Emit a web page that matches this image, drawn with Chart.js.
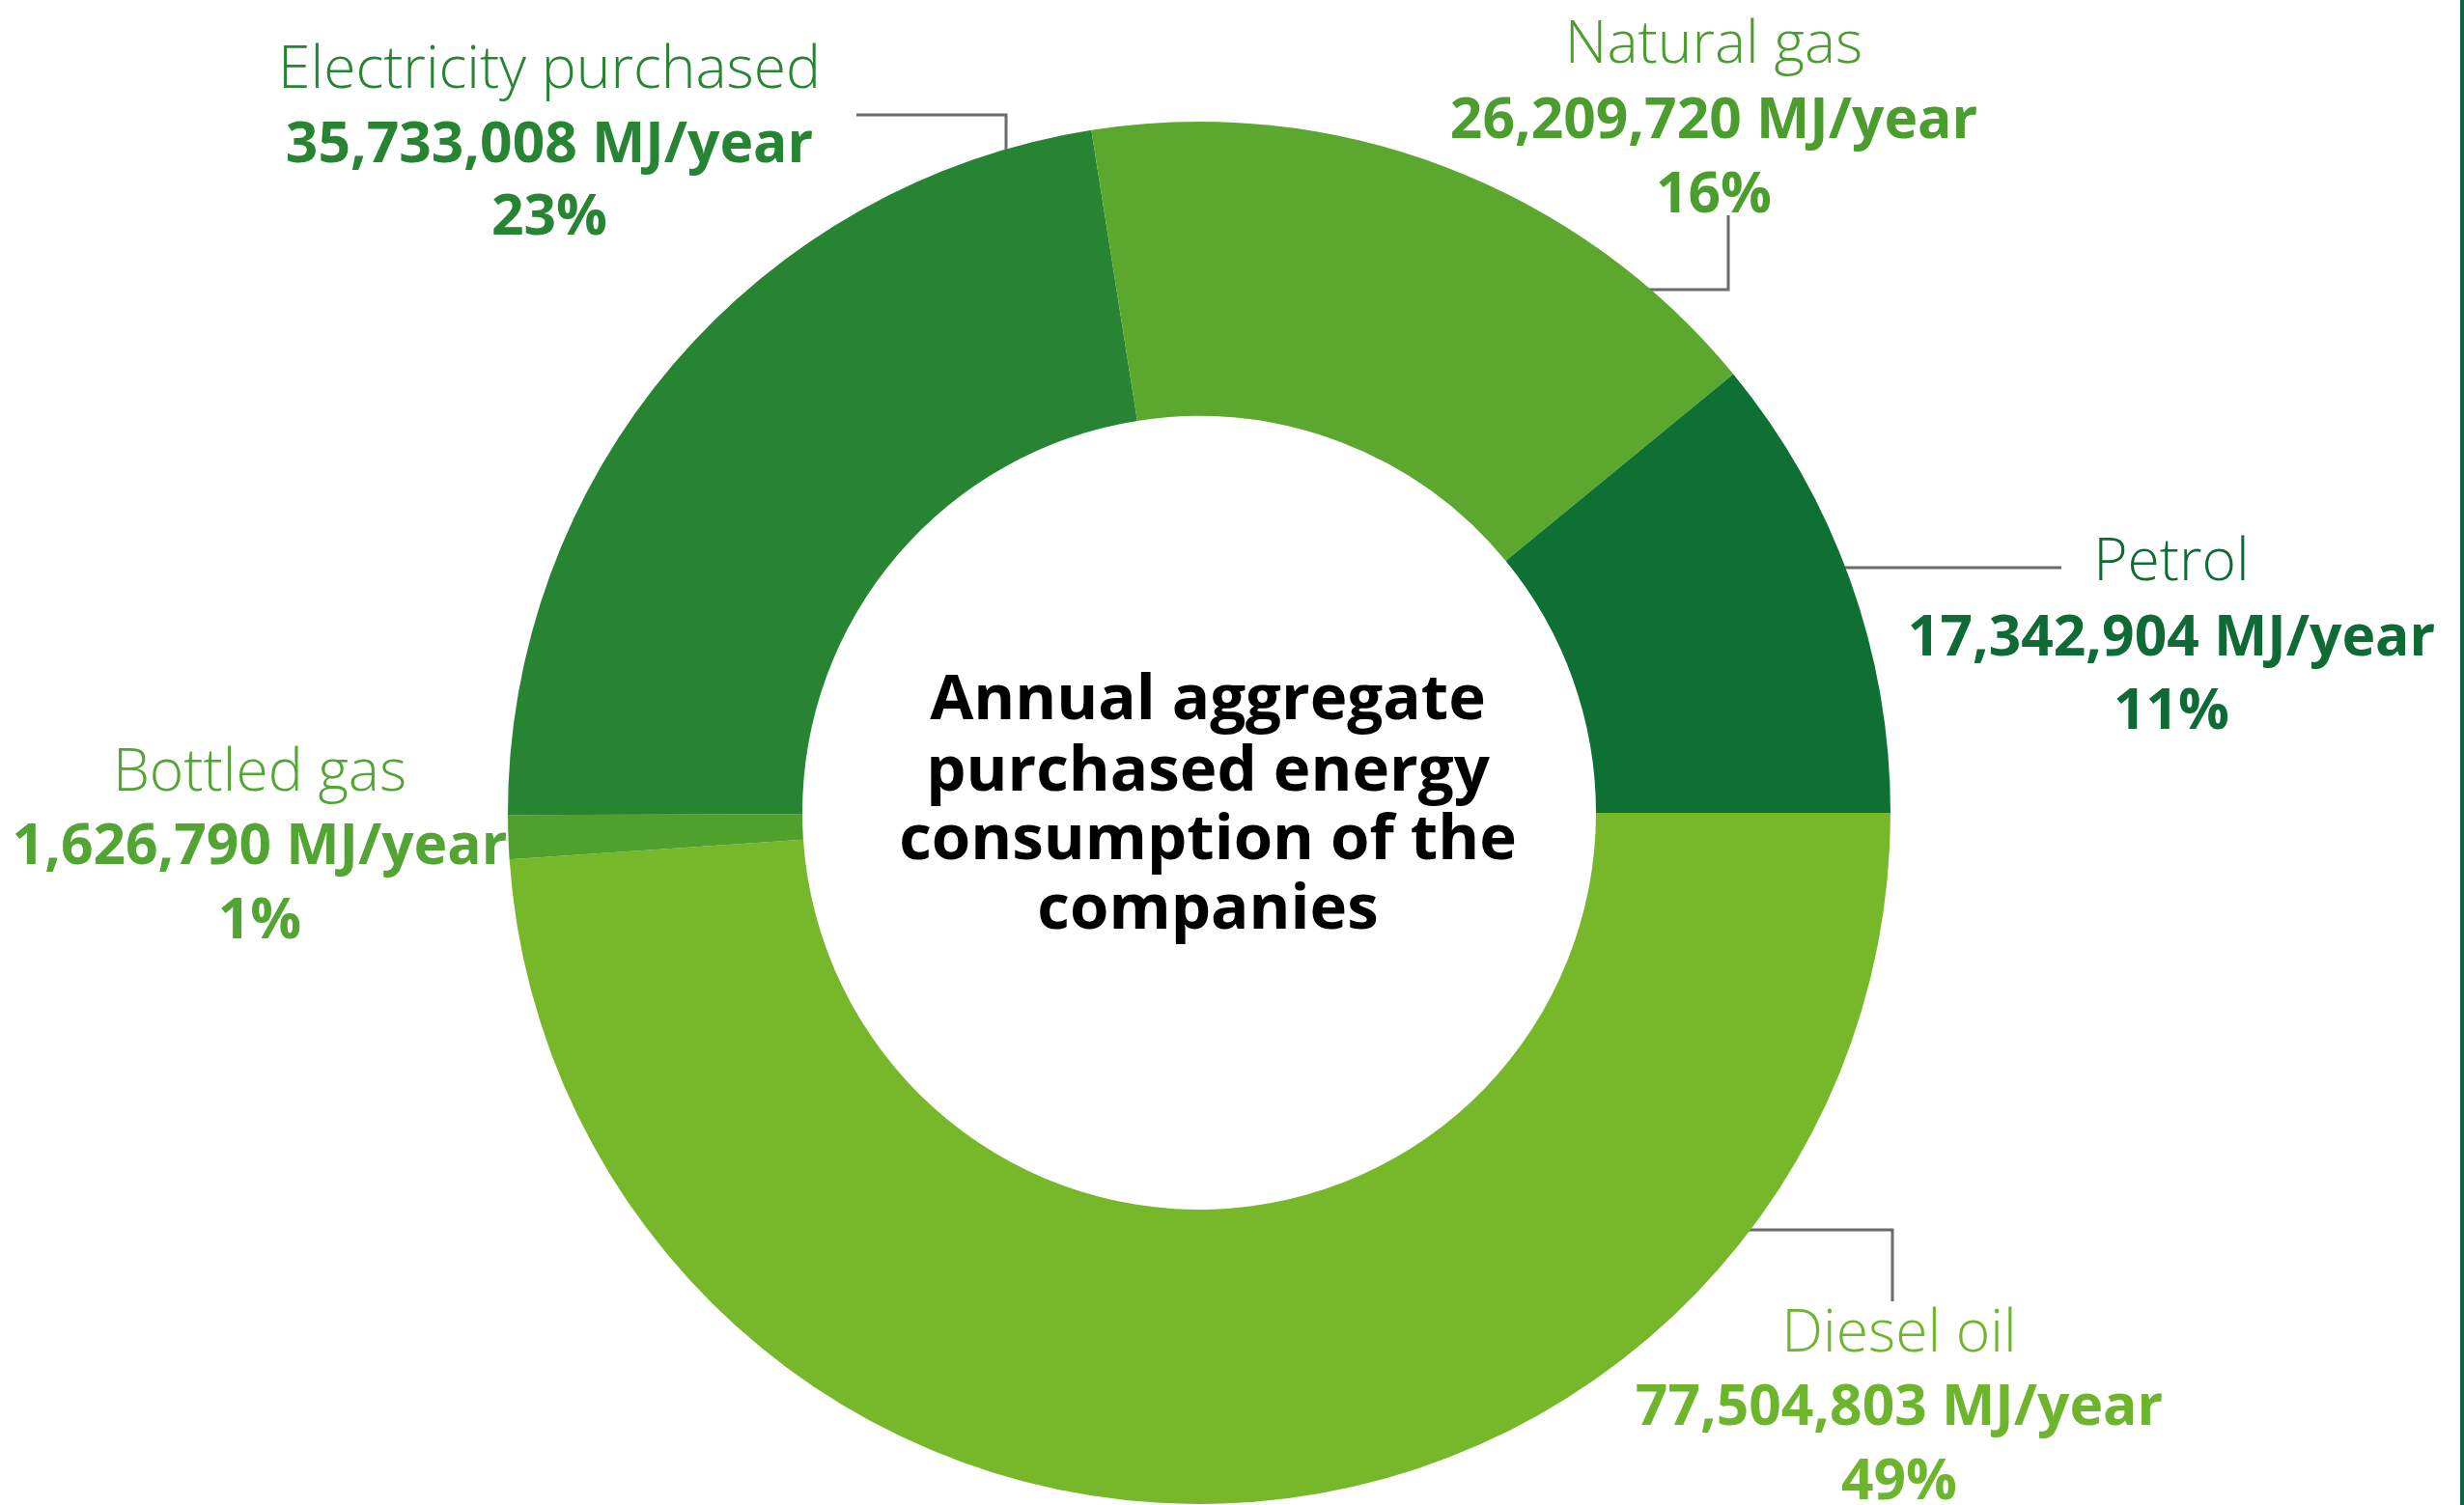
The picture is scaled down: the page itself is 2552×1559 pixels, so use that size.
<!DOCTYPE html>
<html>
<head>
<meta charset="utf-8">
<script src="https://cdn.jsdelivr.net/npm/chart.js@4/dist/chart.umd.min.js"></script>
<style>
  html, body { margin: 0; padding: 0; background: #ffffff; }
  #wrap { position: relative; width: 2552px; height: 1559px; overflow: hidden; }
  #edge { position: absolute; right: 0; top: 0; width: 4px; height: 1559px; background: #0d6340; }
</style>
</head>
<body>
<div id="wrap">
  <canvas id="c" width="2552" height="1559"></canvas>
  <div id="edge"></div>
</div>
<script>
// ---- data ----
const categories = ['Diesel oil', 'Bottled gas', 'Electricity purchased', 'Natural gas', 'Petrol'];
const values = [77504803, 1626790, 35733008, 26209720, 17342904];
const valueLabels = ['77,504,803 MJ/year', '1,626,790 MJ/year', '35,733,008 MJ/year', '26,209,720 MJ/year', '17,342,904 MJ/year'];
const percentLabels = ['49%', '1%', '23%', '16%', '11%'];
const centerTitle = ['Annual aggregate', 'purchased energy', 'consumption of the', 'companies'];

// ---- styles ----
const sliceColors = ['#76b82a', '#4fa12e', '#268432', '#5ca72d', '#0e7133'];
const textColors  = ['#6db52c', '#52a532', '#268432', '#4b9d2e', '#0e6b35'];

// label placement relative to the arc centre (px)
const labelLayout = [
  { dx: 725,  rows: [558, 634, 711],
    leader: { axis: 'y', v: 432, side: 1, path: [[718, 432], [718, 506]] } },
  { dx: -973, rows: [-23, 53, 130], leader: null },
  { dx: -673, rows: [-751, -674, -599],
    leader: { axis: 'x', v: -200, side: -1, path: [[-200, -723], [-355, -723]] } },
  { dx: 533,  rows: [-777, -699, -622],
    leader: { axis: 'y', v: -542, side: 1, path: [[548, -542], [548, -619]] } },
  { dx: 1007, rows: [-241, -163, -87],
    leader: { axis: 'y', v: -254, side: 1, path: [[893, -254]] } }
];

const labelPlugin = {
  id: 'labelPlugin',
  beforeDatasetsDraw(chart) {
    const arc = chart.getDatasetMeta(0).data[0];
    const cx = arc.x, cy = arc.y, R = arc.outerRadius - 6;
    const ctx = chart.ctx;
    ctx.save();
    ctx.strokeStyle = '#6b6b6c';
    ctx.lineWidth = 3;
    ctx.lineJoin = 'miter';
    labelLayout.forEach(l => {
      if (!l.leader) return;
      const ld = l.leader;
      let sx, sy;
      if (ld.axis === 'x') {
        sx = cx + ld.v;
        sy = cy + ld.side * Math.sqrt(R * R - ld.v * ld.v);
      } else {
        sy = cy + ld.v;
        sx = cx + ld.side * Math.sqrt(R * R - ld.v * ld.v);
      }
      ctx.beginPath();
      ctx.moveTo(sx, sy);
      ld.path.forEach(p => ctx.lineTo(cx + p[0], cy + p[1]));
      ctx.stroke();
    });
    ctx.restore();
  },
  afterDatasetsDraw(chart) {
    const arc = chart.getDatasetMeta(0).data[0];
    const cx = arc.x, cy = arc.y;
    const ctx = chart.ctx;
    ctx.save();
    ctx.textAlign = 'center';
    ctx.textBaseline = 'alphabetic';
    labelLayout.forEach((l, i) => {
      ctx.fillStyle = textColors[i];
      ctx.font = '300 60.5px "Open Sans"';
      ctx.fillText(categories[i], cx + l.dx, cy + l.rows[0]);
      ctx.font = 'bold 58.7px "Open Sans"';
      ctx.fillText(valueLabels[i], cx + l.dx, cy + l.rows[1]);
      ctx.fillText(percentLabels[i], cx + l.dx, cy + l.rows[2]);
    });
    // centre title
    ctx.fillStyle = '#000000';
    ctx.font = 'bold 65.4px "Open Sans"';
    const titleRows = [-97, -23, 48, 120];
    centerTitle.forEach((t, k) => ctx.fillText(t, cx + 9, cy + titleRows[k]));
    ctx.restore();
  }
};

new Chart(document.getElementById('c'), {
  type: 'doughnut',
  data: {
    labels: categories,
    datasets: [{
      data: values,
      backgroundColor: sliceColors,
      borderWidth: 0,
      hoverOffset: 0
    }]
  },
  options: {
    responsive: false,
    animation: false,
    rotation: 90,
    cutout: '57.4%',
    layout: { padding: { top: 126, bottom: 1, left: 500, right: 568 } },
    plugins: { legend: { display: false }, tooltip: { enabled: false }, title: { display: false } },
    events: []
  },
  plugins: [labelPlugin]
});
</script>
</body>
</html>
